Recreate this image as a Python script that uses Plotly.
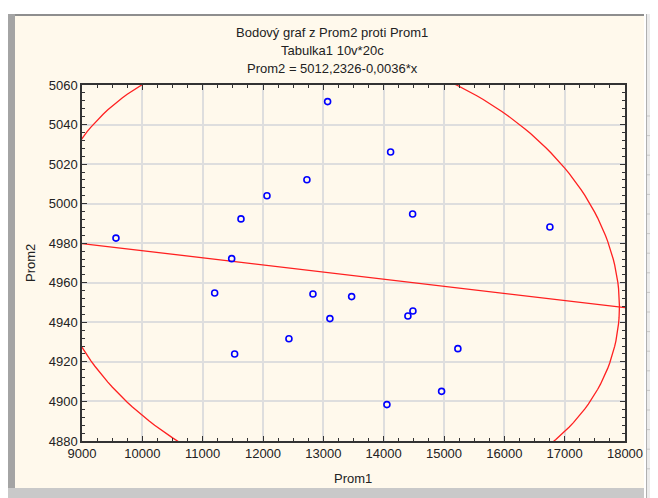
import numpy as np
import plotly.graph_objects as go

# ---- data ----
prom1 = [9563, 11481, 11635, 12066, 12728, 13071, 14115, 14480, 16755, 11199,
         11530, 12430, 12828, 13109, 13469, 14402, 14485, 15230, 14960, 14054]
prom2 = [4982.6, 4972.2, 4992.3, 5004.0, 5012.1, 5051.6, 5026.1, 4994.8, 4988.2, 4954.8,
         4924.0, 4931.7, 4954.3, 4941.9, 4953.0, 4943.2, 4945.7, 4926.7, 4905.1, 4898.4]
intercept = 5012.2326
slope = -0.0036
x_range = [9000, 18000]
y_range = [4880, 5060]
x_ticks = list(range(9000, 18001, 1000))
y_ticks = list(range(4880, 5061, 20))
F_95 = 3.5546  # F(0.95; 2, n-2) for n = 20
title_lines = ["Bodový graf z Prom2 proti Prom1", "Tabulka1 10v*20c",
               "Prom2 = 5012,2326-0,0036*x"]

# page geometry (the page body has an 8px margin)
OFF = 8
PW, PH = 658, 498
L, R, T, B = 82, 625, 85, 441
W, H = PW - OFF, PH - OFF


def px(u):
    return (u - L) / (R - L)


def py(v):
    return 1 - (v - T) / (B - T)


# regression line through the axis range
line_x = np.array(x_range, dtype=float)
line_y = intercept + slope * line_x

# prediction ellipse from the data
x = np.array(prom1, dtype=float)
y = np.array(prom2, dtype=float)
n = len(x)
cov = np.cov(x, y)
k = np.sqrt(2 * (n - 1) * (n + 1) / (n * (n - 2)) * F_95)
chol = np.linalg.cholesky(cov)
t = np.linspace(0, 2 * np.pi, 241)
circ = np.vstack([np.cos(t), np.sin(t)])
ell = chol @ circ * k
ex = ell[0] + x.mean()
ey = ell[1] + y.mean()

font = "Liberation Sans, Arial, sans-serif"
fig = go.Figure()
fig.add_trace(go.Scatter(x=ex, y=ey, mode="lines",
                         line=dict(color="#FF2020", width=1.3), hoverinfo="skip"))
fig.add_trace(go.Scatter(x=line_x, y=line_y, mode="lines",
                         line=dict(color="#FF2020", width=1.3), hoverinfo="skip"))
fig.add_trace(go.Scatter(x=prom1, y=prom2, mode="markers",
                         marker=dict(symbol="circle-open", size=6, color="#0000FF",
                                     line=dict(width=1.6, color="#0000FF"))))

shapes = []
# window chrome / panel background
shapes.append(dict(type="rect", xref="paper", yref="paper", layer="below",
                   x0=px(15), x1=px(644), y0=py(488), y1=py(16),
                   fillcolor="#FFF9EC", line=dict(width=0)))
shapes.append(dict(type="rect", xref="paper", yref="paper", layer="below",
                   x0=px(8), x1=px(644), y0=py(16), y1=py(14),
                   fillcolor="#8E8E8E", line=dict(width=0)))
shapes.append(dict(type="rect", xref="paper", yref="paper", layer="below",
                   x0=px(8), x1=px(15), y0=py(498), y1=py(14),
                   fillcolor="#A4A4A4", line=dict(width=0)))
shapes.append(dict(type="rect", xref="paper", yref="paper", layer="below",
                   x0=px(8), x1=px(644), y0=py(498), y1=py(488),
                   fillcolor="#C9C9C9", line=dict(width=0)))
shapes.append(dict(type="rect", xref="paper", yref="paper", layer="below",
                   x0=px(646), x1=px(658), y0=py(498), y1=py(14),
                   fillcolor="#ECECEC", line=dict(width=0)))
shapes.append(dict(type="line", xref="paper", yref="paper", layer="below",
                   x0=px(646.5), x1=px(646.5), y0=py(498), y1=py(14),
                   line=dict(color="#B0B0B0", width=1)))
for r in range(19):
    yy = 116 + r * 19.6
    shapes.append(dict(type="line", xref="paper", yref="paper", layer="below",
                       x0=px(647), x1=px(658), y0=py(yy), y1=py(yy),
                       line=dict(color="#C8C8C8", width=1)))

annotations = []
for i, txt in enumerate(title_lines):
    annotations.append(dict(text=txt, xref="paper", yref="paper", x=px(332), y=py(32 + 18 * i),
                            xanchor="center", yanchor="middle", showarrow=False,
                            font=dict(family=font, size=13, color="#222222")))
annotations.append(dict(text="Prom1", xref="paper", yref="paper", x=px(353), y=py(478),
                        xanchor="center", yanchor="middle", showarrow=False,
                        font=dict(family=font, size=13, color="#222222")))
annotations.append(dict(text="Prom2", xref="paper", yref="paper", x=px(30), y=py(263),
                        xanchor="center", yanchor="middle", showarrow=False, textangle=-90,
                        font=dict(family=font, size=13, color="#222222")))
for r in range(19):
    yy = 126 + r * 19.6
    annotations.append(dict(text="1" if r < 10 else "2", xref="paper", yref="paper",
                            x=px(648), y=py(yy), xanchor="left", yanchor="middle",
                            showarrow=False, font=dict(family=font, size=10, color="#333333")))

axis_common = dict(showgrid=True, gridcolor="#DEDEDE", gridwidth=1.5,
                   showline=True, linecolor="#333333", linewidth=1.5, mirror="ticks",
                   ticks="inside", ticklen=5, tickcolor="#333333", tickwidth=1,
                   zeroline=False, automargin=False,
                   tickfont=dict(family=font, size=13, color="#222222"))

fig.update_layout(
    width=W, height=H,
    margin=dict(l=L - OFF, r=PW - R, t=T - OFF, b=PH - B),
    paper_bgcolor="white", plot_bgcolor="white",
    showlegend=False,
    shapes=shapes, annotations=annotations,
    xaxis=dict(range=x_range, tickvals=x_ticks, ticktext=[str(v) for v in x_ticks],
               minor=dict(ticks="inside", dtick=250, tick0=9000, ticklen=3,
                          tickcolor="#333333", showgrid=False),
               **axis_common),
    yaxis=dict(range=y_range, tickvals=y_ticks, ticktext=[str(v) for v in y_ticks],
               minor=dict(ticks="inside", dtick=4, tick0=4880, ticklen=3,
                          tickcolor="#333333", showgrid=False),
               **axis_common),
)

fig.write_html("out.html")
